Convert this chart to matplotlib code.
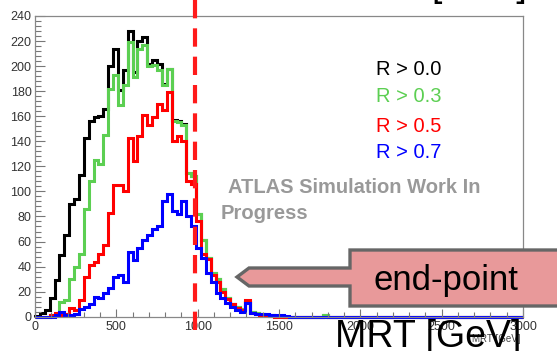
import numpy as np
import matplotlib.pyplot as plt
from matplotlib.patches import Polygon
from matplotlib.ticker import MultipleLocator

W, H = 557, 351

# MRT distributions, 30 GeV bins from 0 to 1800 GeV, then one empty bin up to 3000
edges = np.append(np.arange(0, 1801, 30), 3000)

r00 = [0.5, 2.7, 5, 15, 29, 49, 65, 90, 94, 113,
       143, 156, 159, 160, 166, 200, 214, 181, 197, 228,
       195, 220, 223, 202, 205, 202, 186, 198, 157, 156,
       154, 115, 112, 82, 61, 47, 35, 30, 22, 15,
       10, 8, 6, 12, 4, 3, 2, 1, 1, 0.5,
       0.5, 0, 0, 0, 0, 0, 0, 0, 0, 1, 0]
r03 = [0, 0, 0, 1, 1, 12, 13, 30, 40, 50,
       86, 108, 125, 122, 145, 182, 193, 169, 185, 219,
       191, 214, 217, 200, 201, 197, 185, 198, 156, 155,
       153, 115, 112, 82, 61, 47, 35, 30, 22, 15,
       10, 8, 6, 12, 4, 3, 2, 1, 1, 0.5,
       0.5, 0, 0, 0, 0, 0, 0, 0, 0, 1, 0]
r05 = [0, 0, 0, 1, 3, 1, 2, 7, 5, 13,
       32, 41, 44, 50, 57, 83, 105, 105, 100, 143,
       124, 144, 161, 153, 159, 170, 165, 179, 140, 144,
       140, 108, 106, 76, 50, 46, 33, 28, 20, 14,
       10, 7, 5, 13, 3, 2, 1, 1, 0.5, 0,
       0, 0, 0, 0, 0, 0, 0, 0, 0, 0, 0]
r07 = [0, 0, 0, 0, 1, 4, 1, 1, 2, 6,
       8, 10, 16, 15, 19, 23, 32, 33, 28, 52,
       45, 55, 61, 65, 70, 72, 92, 98, 84, 82,
       92, 80, 72, 55, 47, 35, 28, 19, 15, 11,
       8, 5, 4, 11, 3, 2, 2, 2, 1, 1,
       1, 0.5, 0, 0, 0, 0, 0, 0, 0, 0, 0]

series = [(r00, '#000000', 'R > 0.0'),
          (r03, '#5ccf52', 'R > 0.3'),
          (r05, '#ff0000', 'R > 0.5'),
          (r07, '#0000ff', 'R > 0.7')]
endpoint = 985

plt.rcParams['font.family'] = ['Liberation Sans', 'DejaVu Sans']


def fx(px):
    return px / W


def fy(py):
    return 1 - py / H


fig = plt.figure(figsize=(W / 100, H / 100), dpi=100)
ax = fig.add_axes([fx(35), fy(316.7), fx(523) - fx(35), fy(16) - fy(316.7)])

for vals, col, lab in series:
    ax.stairs(vals, edges, color=col, lw=2.2, clip_on=False)

ax.set_xlim(0, 3000)
ax.set_ylim(0, 240)
ax.xaxis.set_major_locator(MultipleLocator(500))
ax.xaxis.set_minor_locator(MultipleLocator(100))
ax.yaxis.set_major_locator(MultipleLocator(20))
ax.yaxis.set_minor_locator(MultipleLocator(4))
ax.tick_params(axis='y', which='major', direction='in', length=7, width=0.8,
               color='#777777', labelsize=9, labelcolor='#333333', pad=2.5)
ax.tick_params(axis='y', which='minor', direction='in', length=4, width=0.8, color='#777777')
ax.tick_params(axis='x', which='major', direction='in', length=6, width=0.8,
               color='#777777', labelsize=9, labelcolor='#333333', pad=3)
ax.tick_params(axis='x', which='minor', direction='in', length=3.5, width=0.8, color='#777777')
for s in ax.spines.values():
    s.set_color('#888888')
    s.set_linewidth(0.9)

# end-point marker, runs past the frame
ax.axvline(endpoint, ymin=-0.044, ymax=1.055, color='#ff1a1a', lw=3,
           dashes=(4.4, 2.4), clip_on=False, zorder=10)

# legend as coloured text
leg_y = [75, 102, 131.5, 157.5]
for (vals, col, lab), y in zip(series, leg_y):
    fig.text(fx(376), fy(y), lab, color=col, fontsize=14.5, va='baseline')

fig.text(fx(228), fy(193), 'ATLAS Simulation Work In', color='#999999',
         fontsize=14.5, fontweight='bold', va='baseline')
fig.text(fx(221), fy(219), 'Progress', color='#999999',
         fontsize=14.5, fontweight='bold', va='baseline')

# small ROOT axis title, mostly covered
fig.text(fx(521), fy(342), 'MRT [GeV]', fontsize=7, color='#444444',
         ha='right', va='baseline')

# callout arrow
pts = [(237, 277), (249, 268), (350, 268), (350, 250), (575, 250),
       (575, 306), (350, 306), (350, 286), (249, 286)]
arrow = Polygon([(fx(x), fy(y)) for x, y in pts], closed=True,
                transform=fig.transFigure, fc='#e8999a', ec='#666666',
                lw=2.4, joinstyle='miter', zorder=5)
fig.add_artist(arrow)
fig.text(fx(446), fy(290), 'end-point', fontsize=25, ha='center',
         va='baseline', zorder=6)

fig.text(fx(335), fy(347), 'MRT [GeV]', fontsize=27, va='baseline', zorder=6)
fig.text(fx(431), fy(-4), '[GeV]', fontsize=27, va='baseline', zorder=6)

fig.savefig('out.png', dpi=100)
